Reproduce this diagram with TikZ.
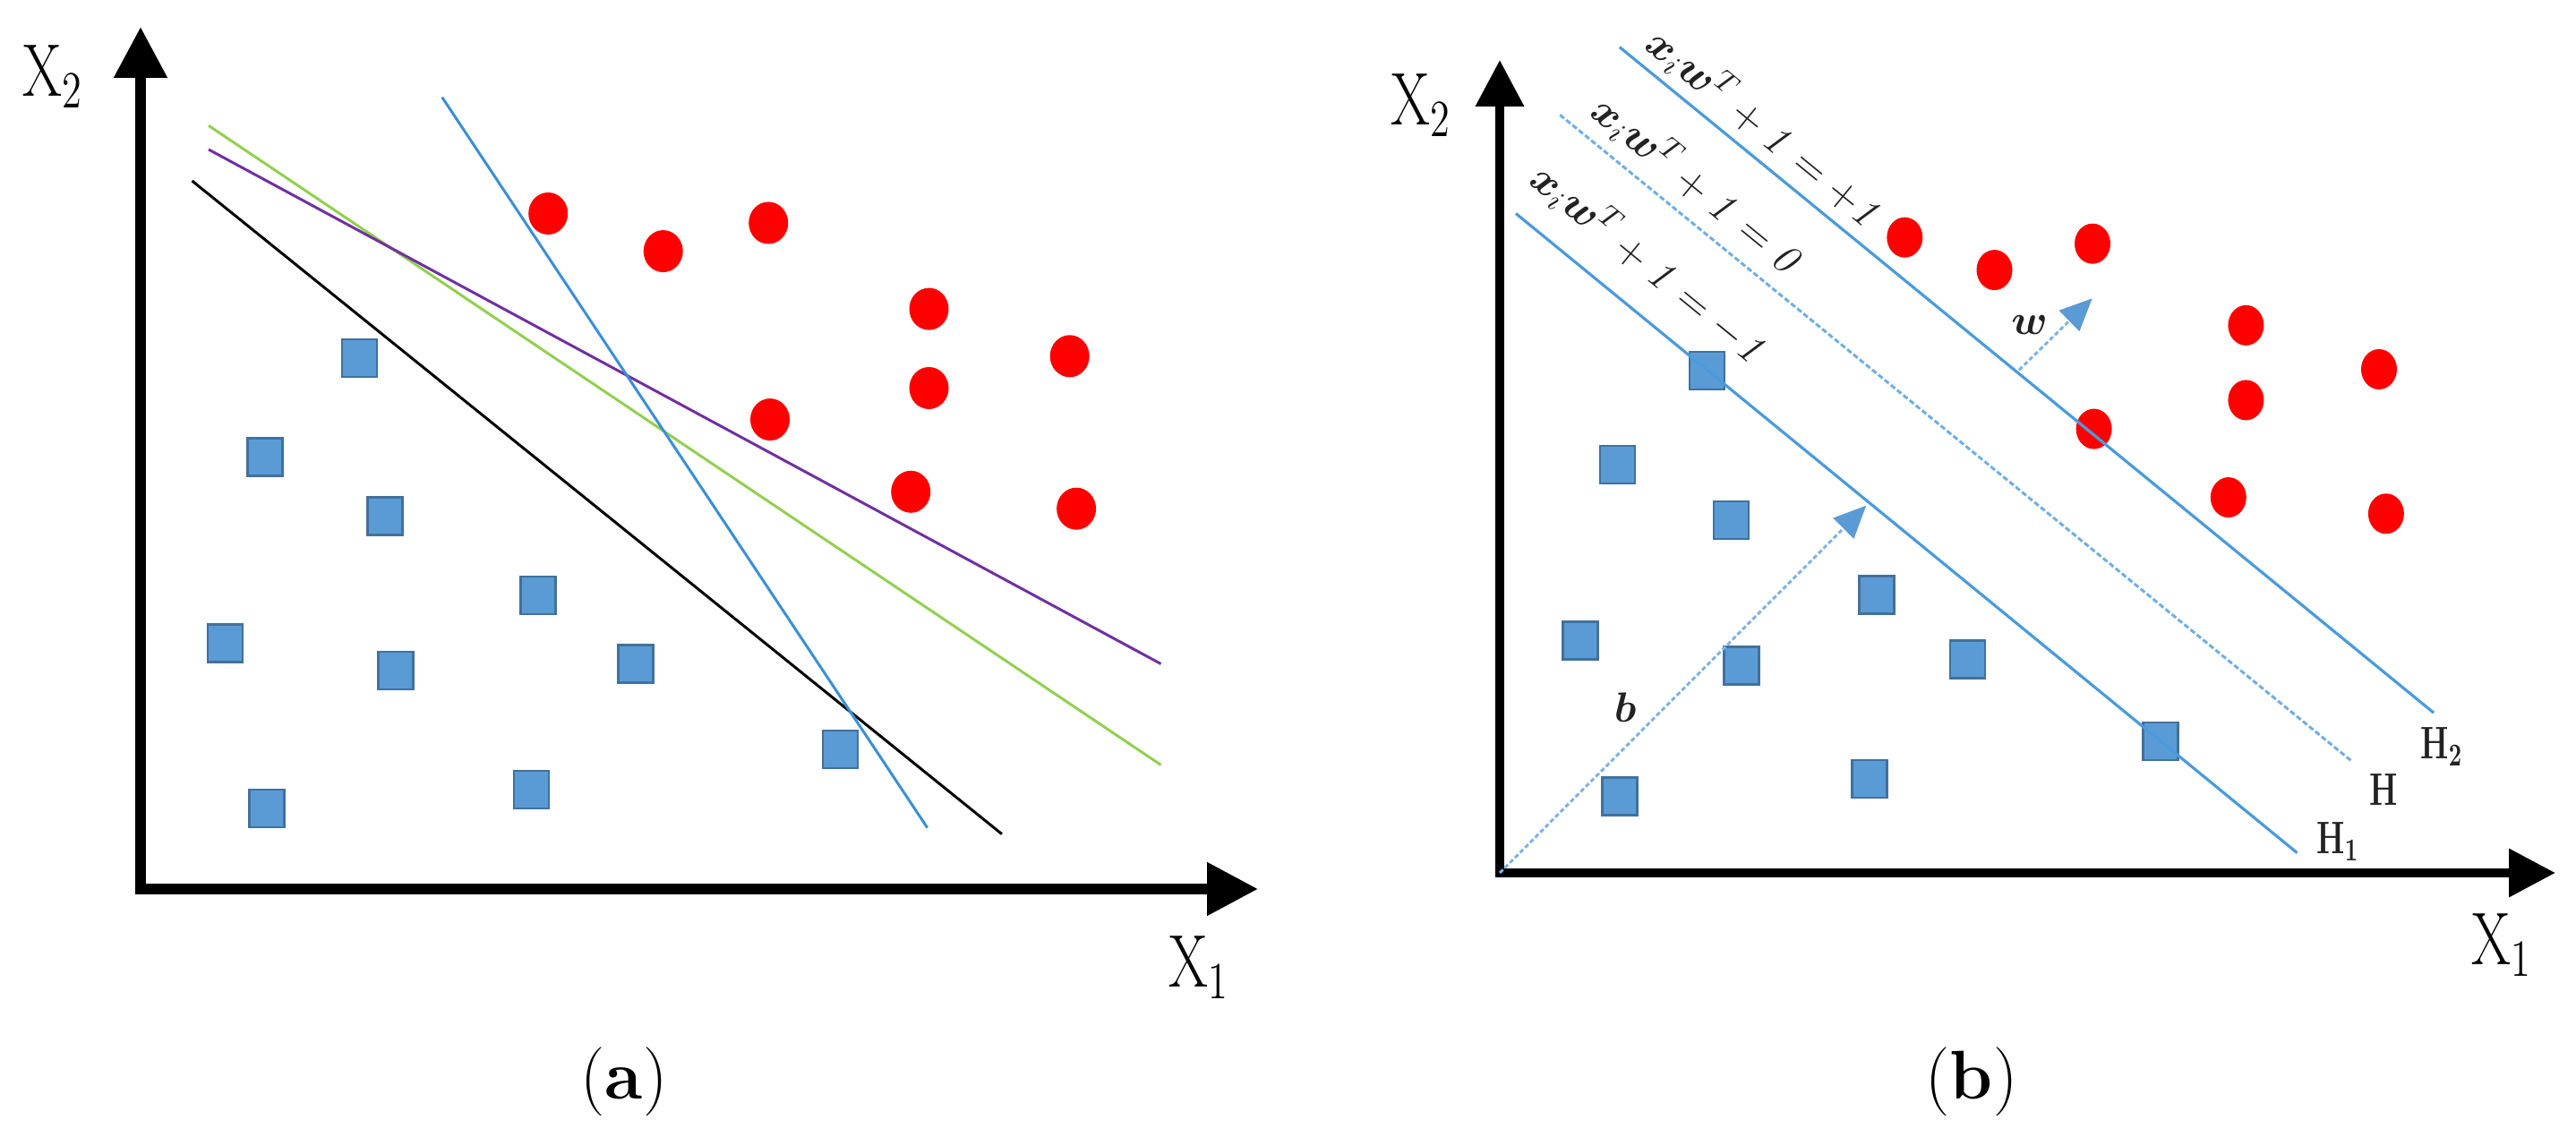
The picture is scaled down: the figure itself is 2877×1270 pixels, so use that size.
\RequirePackage{fix-cm}
\documentclass[tikz,border=0pt]{standalone}
\usepackage{amsmath}
\usetikzlibrary{arrows.meta,shapes.geometric}
\definecolor{sqfill}{HTML}{5B9BD5}
\definecolor{sqborder}{HTML}{41719C}
\definecolor{dotred}{HTML}{FF0000}
\definecolor{lineblue}{HTML}{3A8FD6}
\definecolor{hblue}{HTML}{4A9BDB}
\definecolor{hdash}{HTML}{6FAEE3}
\definecolor{vecblue}{HTML}{7FB2E5}
\definecolor{tipblue}{HTML}{5B9BD5}
\definecolor{lgreen}{HTML}{92D050}
\definecolor{lpurple}{HTML}{7030A0}
\definecolor{txtgray}{HTML}{222222}
\begin{document}
\begin{tikzpicture}[x=0.1mm,y=-0.1mm,
  axisA/.style={line width=1.15mm,line join=miter,{Triangle[length=5.7mm,width=5.7mm]}-{Triangle[length=5.7mm,width=5.7mm]}},
  axisB/.style={line width=1.0mm,line join=miter,{Triangle[length=5.2mm,width=5.2mm]}-{Triangle[length=5.2mm,width=5.2mm]}},
  sq/.style={rectangle,draw=sqborder,fill=sqfill,line width=0.25mm,minimum width=3.9mm,minimum height=4.2mm,inner sep=0pt},
  dotA/.style={ellipse,fill=dotred,minimum width=4.4mm,minimum height=4.7mm,inner sep=0pt},
  dotB/.style={ellipse,fill=dotred,minimum width=4.0mm,minimum height=4.5mm,inner sep=0pt},
  sepline/.style={line width=0.3mm},
  hsolid/.style={draw=hblue,line width=0.32mm},
  hmid/.style={draw=hdash,line width=0.3mm,dash pattern=on 0.6mm off 0.3mm},
  vec/.style={draw=vecblue,line width=0.3mm,dash pattern=on 0.5mm off 0.3mm,-{Triangle[length=3.6mm,width=3.2mm,color=tipblue]}},
  axlabel/.style={inner sep=0pt,anchor=base west,xscale=0.76,font=\fontsize{23.7}{28}\selectfont},
  hlabel/.style={inner sep=0pt,anchor=base west,xscale=0.7,text=txtgray,font=\fontsize{14.5}{17}\selectfont\bfseries\boldmath},
  eqlabel/.style={inner sep=0pt,anchor=base,rotate=-39.27,text=txtgray,font=\fontsize{13.4}{16}\selectfont},
  veclabel/.style={inner sep=0pt,text=txtgray,font=\fontsize{13.4}{16}\selectfont},
  capt/.style={inner sep=0pt,anchor=base,font=\fontsize{21.9}{26}\selectfont}
]
\useasboundingbox (0,0) rectangle (2877,1270);

% ---------------- panel (a) ----------------
\coordinate (Oa) at (157,993);
\coordinate (Ya) at (157,30);
\coordinate (Xa) at (1405,993);
\draw[axisA] (Ya) -- (Oa) -- (Xa);

\node[dotA] (ra1) at (612.2,238.5) {};
\node[dotA] (ra2) at (740.7,280.6) {};
\node[dotA] (ra3) at (858.2,249.0) {};
\node[dotA] (ra4) at (1037.5,345.1) {};
\node[dotA] (ra5) at (1194.7,397.8) {};
\node[dotA] (ra6) at (1037.5,433.5) {};
\node[dotA] (ra7) at (860.0,468.6) {};
\node[dotA] (ra8) at (1017.2,549.3) {};
\node[dotA] (ra9) at (1202.1,568.2) {};

\node[sq] (sa1) at (401.3,399.9) {};
\node[sq] (sa2) at (295.9,510.7) {};
\node[sq] (sa3) at (430.0,576.6) {};
\node[sq] (sa4) at (601.1,665.0) {};
\node[sq] (sa5) at (251.5,718.3) {};
\node[sq] (sa6) at (442.0,749.2) {};
\node[sq] (sa7) at (710.2,741.5) {};
\node[sq] (sa8) at (938.6,836.9) {};
\node[sq] (sa9) at (297.8,902.8) {};
\node[sq] (sa10) at (593.7,881.8) {};

\coordinate (bl1) at (493.8,108.7);  \coordinate (bl2) at (1035.7,924.6);
\coordinate (kl1) at (214.5,202.0);  \coordinate (kl2) at (1118.9,931.6);
\coordinate (gl1) at (233.0,140.3);  \coordinate (gl2) at (1296.5,854.4);
\coordinate (pl1) at (233.0,167.0);  \coordinate (pl2) at (1296.5,741.5);
\draw[sepline,lgreen] (gl1) -- (gl2);
\draw[sepline,lpurple] (pl1) -- (pl2);
\draw[sepline,black] (kl1) -- (kl2);
\draw[sepline,lineblue] (bl1) -- (bl2);

\node[axlabel] (x2a) at (25,108) {X$_2$};
\node[axlabel] (x1a) at (1305,1103) {X$_1$};
\node[capt] (capa) at (697,1228) {({\bfseries a})};

% ---------------- panel (b) ----------------
\coordinate (Ob) at (1675,975);
\coordinate (Yb) at (1675,67);
\coordinate (Xb) at (2854,975);
\draw[axisB] (Yb) -- (Ob) -- (Xb);

\node[dotB] (rb1) at (2127.3,265.2) {};
\node[dotB] (rb2) at (2227.5,301.6) {};
\node[dotB] (rb3) at (2337.0,272.2) {};
\node[dotB] (rb4) at (2508.4,363.4) {};
\node[dotB] (rb5) at (2657.0,412.5) {};
\node[dotB] (rb6) at (2508.4,446.9) {};
\node[dotB] (rb7) at (2338.6,479.1) {};
\node[dotB] (rb8) at (2488.8,555.6) {};
\node[dotB] (rb9) at (2664.9,573.8) {};

\node[sq] (sb1) at (1906.7,413.9) {};
\node[sq] (sb2) at (1806.5,519.1) {};
\node[sq] (sb3) at (1933.3,580.8) {};
\node[sq] (sb4) at (2096.0,664.3) {};
\node[sq] (sb5) at (1765.0,715.5) {};
\node[sq] (sb6) at (1945.0,743.6) {};
\node[sq] (sb7) at (2197.7,736.6) {};
\node[sq] (sb8) at (2412.9,827.8) {};
\node[sq] (sb9) at (1808.8,889.5) {};
\node[sq] (sb10) at (2088.2,869.9) {};

\coordinate (h2a) at (1808.8,52.6);  \coordinate (h2b) at (2718.1,796.2);
\coordinate (h0a) at (1742.3,128.4); \coordinate (h0b) at (2626.5,850.2);
\coordinate (h1a) at (1693.0,238.5); \coordinate (h1b) at (2565.5,952.6);
\draw[hsolid] (h2a) -- (h2b);
\draw[hmid] (h0a) -- (h0b);
\draw[hsolid] (h1a) -- (h1b);

\coordinate (wS) at (2255,413.3);
\coordinate (wE) at (2336.7,333.3);
\coordinate (bE) at (2084.3,564.7);
\draw[vec] (wS) -- (wE);
\draw[vec] (Ob) -- (bE);

\node[eqlabel] (eq2) at (1962.0,156.5) {$\boldsymbol{x}_{i}\boldsymbol{w}^{T}+\mathit{1}=+\mathit{1}$};
\node[eqlabel] (eq0) at (1886.9,219.9) {$\boldsymbol{x}_{i}\boldsymbol{w}^{T}+\mathit{1}=\mathit{0}$};
\node[eqlabel] (eq1) at (1833.0,307.7) {$\boldsymbol{x}_{i}\boldsymbol{w}^{T}+\mathit{1}=-\mathit{1}$};

\node[veclabel] (wl) at (2266.7,363.3) {$\boldsymbol{w}$};
\node[veclabel] (bl) at (1815,790) {$\boldsymbol{b}$};

\node[hlabel] (lh2) at (2703,848) {H$_2$};
\node[hlabel] (lh0) at (2646,900) {H};
\node[hlabel] (lh1) at (2587,954) {H$_1$};

\node[axlabel] (x2b) at (1553,140) {X$_2$};
\node[axlabel] (x1b) at (2760,1078) {X$_1$};
\node[capt] (capb) at (2202,1228) {({\bfseries b})};
\end{tikzpicture}
\end{document}
